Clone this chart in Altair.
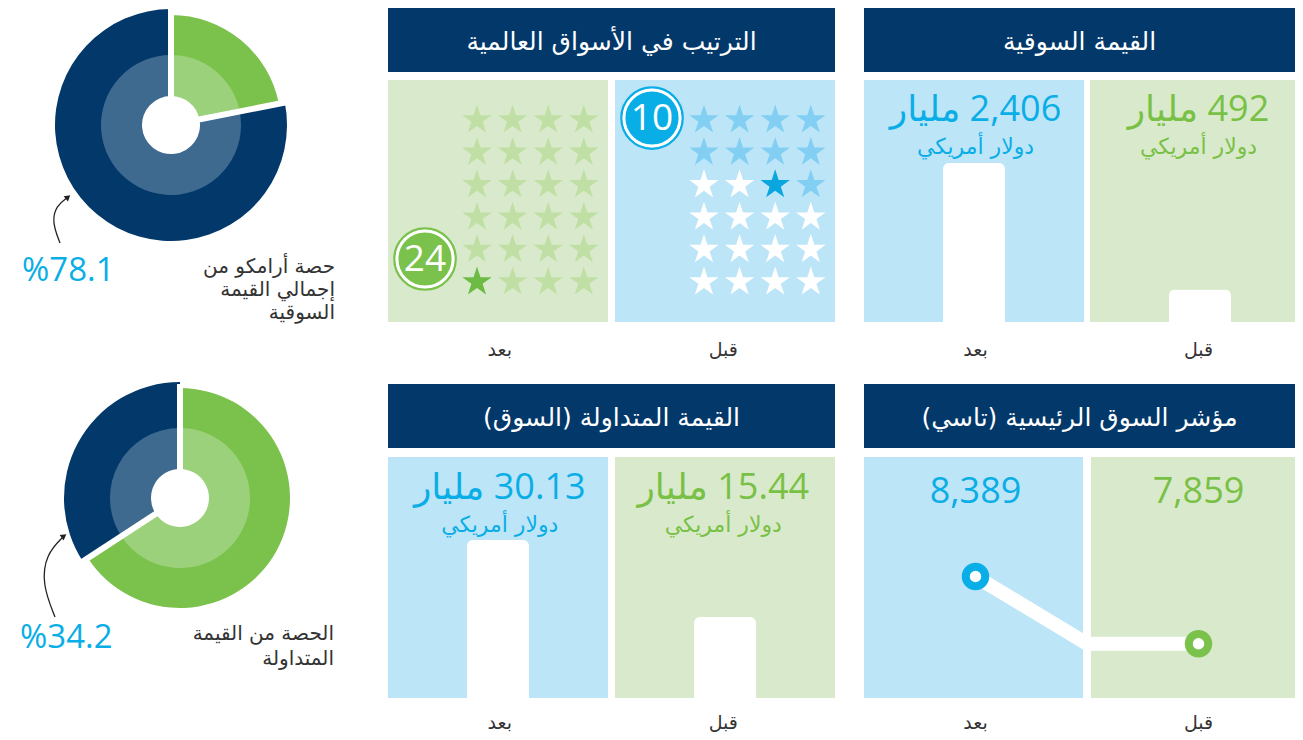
import math
import altair as alt
import pandas as pd

# ------------------------------------------------------------------ data
STAGES = ["بعد", "قبل"]                      # after / before  (left -> right)
MARKET_VALUE = [2406, 492]                   # USD billion
MARKET_VALUE_TEXT = ["2,406 مليار", "492 مليار"]
TRADED_VALUE = [30.13, 15.44]                # USD billion
TRADED_VALUE_TEXT = ["30.13 مليار", "15.44 مليار"]
TASI_VALUE = [8389, 7859]
TASI_TEXT = ["8,389", "7,859"]
WORLD_RANK = [24, 10]
RANK_SLOTS = 24
UNIT_TEXT = "دولار أمريكي"
ARAMCO_SHARE = [78.1, 34.2]                  # percent
SHARE_TEXT = ["%78.1", "%34.2"]
SHARE_CAPTION_1 = ["حصة أرامكو من", "إجمالي القيمة", "السوقية"]
SHARE_CAPTION_2 = ["الحصة من القيمة", "المتداولة"]
TITLE_RANK = "الترتيب في الأسواق العالمية"
TITLE_MV = "القيمة السوقية"
TITLE_TRADED = "القيمة المتداولة (السوق)"
TITLE_TASI = "مؤشر السوق الرئيسية (تاسي)"

# ------------------------------------------------------------------ styles
NAVY = "#02386a"
NAVY_LIGHT = "#3f6a90"
GREEN = "#7bc24d"
GREEN_LIGHT = "#9cd17b"
CYAN = "#0aaee6"
TXT_GREEN = "#79c146"
BG_BLUE = "#bde5f8"
BG_GREEN = "#d9eacc"
STAR_GREEN = "#c0dfa4"
STAR_GREEN_ON = "#6dbb45"
STAR_BLUE = "#83cff3"
STAR_BLUE_ON = "#0aa6df"
TXT_DARK = "#333333"
ARROW = "#222222"
FONT_AR = "DejaVu Sans"
FONT_NUM = "Open Sans, DejaVu Sans"
STAR_PATH = ("M0,-1L0.2245,-0.309L0.951,-0.309L0.363,0.118L0.588,0.809L0,0.382"
             "L-0.588,0.809L-0.363,0.118L-0.951,-0.309L-0.2245,-0.309Z")

# ------------------------------------------------------------------ layout
W_DONUT, W_MID, W_RIGHT = 351, 447, 431
W_RIGHT_FULL = 446            # right-hand panels run off the page edge
H_ROW1, H_ROW2 = 362, 348
GAP_X, GAP_Y = 29, 14
HDR_H = 64
HDR_TEXT_Y = 34

RLM = "\u200f"


def rtl(s):
    return RLM + s + RLM


def band_x(width, gap, full=None):
    full = full or width
    step = (full + gap) / 2.0
    return alt.X("stage:N", axis=None,
                 scale=alt.Scale(domain=STAGES, range=[0, full],
                                 paddingInner=gap / step, paddingOuter=0))


def ident_x(field, width):
    return alt.X(field, axis=None,
                 scale=alt.Scale(domain=[0, width], range=[0, width], nice=False, zero=False))


def ident_y(field, height):
    return alt.Y(field, axis=None,
                 scale=alt.Scale(domain=[0, height], range=[0, height], nice=False, zero=False))


def header(title, width):
    d = pd.DataFrame({"t": [rtl(title)]})
    box = alt.Chart(d).mark_rect(color=NAVY).encode(
        x=alt.value(0), x2=alt.value(width), y=alt.value(0), y2=alt.value(HDR_H))
    txt = alt.Chart(d).mark_text(color="white", font=FONT_AR, fontSize=25,
                                 align="center", baseline="middle").encode(
        x=alt.value(width / 2), y=alt.value(HDR_TEXT_Y), text="t:N")
    return [box, txt]


def backgrounds(xb, colors, top, bottom):
    d = pd.DataFrame({"stage": STAGES})
    return alt.Chart(d).mark_rect(clip=True).encode(
        x=xb, y=alt.value(top), y2=alt.value(bottom),
        color=alt.Color("stage:N", scale=alt.Scale(domain=STAGES, range=colors), legend=None))


def stage_labels(xb, y):
    d = pd.DataFrame({"stage": STAGES, "lbl": [rtl(s) for s in STAGES]})
    return alt.Chart(d).mark_text(font=FONT_AR, fontSize=19, color=TXT_DARK,
                                  baseline="middle").encode(
        x=xb, y=alt.value(y), text="lbl:N")


def value_panel(title, values, texts, ymax, width, height, gap, top, bottom,
                val_y, unit_y, lbl_y, full=None):
    d = pd.DataFrame({"stage": STAGES, "value": values,
                      "big": [rtl(t) for t in texts], "unit": [rtl(UNIT_TEXT)] * len(STAGES)})
    xb = band_x(width, gap, full)
    txt_col = alt.Color("stage:N", scale=alt.Scale(domain=STAGES, range=[CYAN, TXT_GREEN]), legend=None)
    bars = alt.Chart(d).mark_bar(color="white", width=62, cornerRadiusTopLeft=6,
                                 cornerRadiusTopRight=6).encode(
        x=xb, y=alt.Y("value:Q", axis=None,
                      scale=alt.Scale(domain=[0, ymax], range=[bottom, top], nice=False)))
    big = alt.Chart(d).mark_text(font=FONT_NUM, fontSize=36, fontWeight=500,
                                 baseline="middle").encode(
        x=xb, y=alt.value(val_y), text="big:N", color=txt_col)
    unit = alt.Chart(d).mark_text(font=FONT_AR, fontSize=22, baseline="middle").encode(
        x=xb, y=alt.value(unit_y), text="unit:N", color=txt_col)
    layers = header(title, width) + [
        backgrounds(xb, [BG_BLUE, BG_GREEN], top, bottom),
        bars, big, unit, stage_labels(xb, lbl_y)]
    return alt.layer(*layers).properties(width=width, height=height).resolve_scale(
        x="independent", y="independent", color="independent")


def rank_panel(width, height, gap, top, bottom, lbl_y):
    # star grid layout (grid units -> pixels through linear scales)
    x0, dx, y0, dy = 89, 35.6, 112, 32.4
    shift = 6.376                       # columns between the two panels' grids
    circle_pos = [(-1.46, 4.29), (-1.46 + shift, -0.06)]
    rows = []
    for k, (stage, rank) in enumerate(zip(STAGES, WORLD_RANK)):
        for i in range(1, RANK_SLOTS + 1):
            status = "past" if i < rank else ("now" if i == rank else "next")
            rows.append({"stage": stage, "slot": i,
                         "gcol": 3 - (i - 1) % 4 + k * shift,
                         "grow": (i - 1) // 4, "key": f"{k}{status}"})
    stars = pd.DataFrame(rows)
    circ = pd.DataFrame({"stage": STAGES, "rank": [str(r) for r in WORLD_RANK],
                         "gcol": [p[0] for p in circle_pos], "grow": [p[1] for p in circle_pos]})
    gx = alt.X("gcol:Q", axis=None,
               scale=alt.Scale(domain=[0, 1], range=[x0, x0 + dx], nice=False, zero=False))
    gy = alt.Y("grow:Q", axis=None,
               scale=alt.Scale(domain=[0, 1], range=[y0, y0 + dy], nice=False, zero=False))
    star_col = alt.Color("key:N", legend=None, scale=alt.Scale(
        domain=["0past", "0now", "0next", "1past", "1now", "1next"],
        range=[STAR_GREEN, STAR_GREEN_ON, "white", STAR_BLUE, STAR_BLUE_ON, "white"]))
    star_layer = alt.Chart(stars).mark_point(shape=STAR_PATH, filled=True, size=960,
                                             opacity=1, strokeWidth=0).encode(
        x=gx, y=gy, color=star_col)
    ring_col = alt.Color("stage:N", legend=None,
                         scale=alt.Scale(domain=STAGES, range=[GREEN, CYAN]))
    ring = alt.Chart(circ).mark_point(filled=False, size=3750, strokeWidth=2.5, opacity=1).encode(
        x=gx, y=gy, color=ring_col)
    disk = alt.Chart(circ).mark_point(filled=True, size=3150, stroke="white", strokeWidth=3,
                                      opacity=1).encode(x=gx, y=gy, color=ring_col)
    num = alt.Chart(circ).mark_text(font=FONT_NUM, fontSize=37, fontWeight=500, color="white",
                                    baseline="middle", dy=1).encode(x=gx, y=gy, text="rank:N")
    xb = band_x(width, gap)
    layers = header(TITLE_RANK, width) + [
        backgrounds(xb, [BG_GREEN, BG_BLUE], top, bottom),
        star_layer, ring, disk, num, stage_labels(xb, lbl_y)]
    return alt.layer(*layers).properties(width=width, height=height).resolve_scale(
        x="independent", y="independent", color="independent")


def tasi_panel(width, height, gap, top, bottom, val_y, lbl_y, full=None):
    full = full or width
    d = pd.DataFrame({"stage": STAGES, "value": TASI_VALUE, "lbl": TASI_TEXT})
    # connector: after-point -> middle of panel at "before" level -> before-point
    line = pd.DataFrame({"slot": [0.5, 1.0, 1.5],
                         "value": [TASI_VALUE[0], TASI_VALUE[1], TASI_VALUE[1]]})
    yscale = alt.Scale(domain=[7432, 9330], range=[bottom, top], nice=False, zero=False)
    xb = band_x(width, gap, full)
    col = alt.Color("stage:N", scale=alt.Scale(domain=STAGES, range=[CYAN, TXT_GREEN]), legend=None)
    conn = alt.Chart(line).mark_line(color="white", strokeWidth=14).encode(
        x=alt.X("slot:Q", axis=None, scale=alt.Scale(domain=[0, 2], range=[0, full], nice=False, zero=False)),
        y=alt.Y("value:Q", axis=None, scale=yscale), order="slot:Q")
    pts = alt.Chart(d).mark_point(filled=True, fill="white", size=380, strokeWidth=8,
                                  opacity=1).encode(
        x=xb, y=alt.Y("value:Q", axis=None, scale=yscale),
        stroke=alt.Stroke("stage:N", scale=alt.Scale(domain=STAGES, range=[CYAN, GREEN]), legend=None))
    txt = alt.Chart(d).mark_text(font=FONT_NUM, fontSize=36, fontWeight=500,
                                 baseline="middle").encode(
        x=xb, y=alt.value(val_y), text="lbl:N", color=col)
    layers = header(TITLE_TASI, width) + [
        backgrounds(xb, [BG_BLUE, BG_GREEN], top, bottom),
        conn, pts, txt, stage_labels(xb, lbl_y)]
    return alt.layer(*layers).properties(width=width, height=height).resolve_scale(
        x="independent", y="independent", color="independent", stroke="independent")


def donut_panel(share, share_text, caption, height, cx, cy, text_xy, cap_x, cap_y0,
                cap_dy, arrow_pts, head_angle):
    W = W_DONUT
    parts = ["rest", "aramco"]
    d = pd.DataFrame({"part": parts, "value": [round(100 - share, 1), share]})
    d["end"] = d["value"].cumsum()
    d["start"] = d["end"] - d["value"]
    th = alt.Theta("start:Q", stack=False,
                   scale=alt.Scale(domain=[0, 100], range=[0, 2 * math.pi]))
    th2 = alt.Theta2("end:Q")
    inner = alt.Chart(d).mark_arc(radius=72, radius2=29).encode(
        theta=th, theta2=th2, x=alt.value(cx), y=alt.value(cy),
        color=alt.Color("part:N", legend=None,
                        scale=alt.Scale(domain=parts, range=[GREEN_LIGHT, NAVY_LIGHT])))
    ocol = alt.Color("part:N", legend=None, scale=alt.Scale(domain=parts, range=[GREEN, NAVY]))
    outer_rest = alt.Chart(d).transform_filter(alt.datum.part == "rest").mark_arc(
        radius=110, radius2=70).encode(theta=th, theta2=th2, x=alt.value(cx), y=alt.value(cy), color=ocol)
    outer_ar = alt.Chart(d).transform_filter(alt.datum.part == "aramco").mark_arc(
        radius=116, radius2=70).encode(theta=th, theta2=th2, x=alt.value(cx), y=alt.value(cy), color=ocol)
    # white separators along the slice boundaries (clipped to the panel)
    bounds = [0.0, float(d["end"].iloc[0])]
    reach = 124
    sep = pd.DataFrame({
        "x1": [cx] * 2, "y1": [cy] * 2,
        "x2": [cx + reach * math.sin(2 * math.pi * b / 100) for b in bounds],
        "y2": [cy - reach * math.cos(2 * math.pi * b / 100) for b in bounds]})
    seps = alt.Chart(sep).mark_rule(color="white", strokeWidth=6, strokeCap="butt",
                                    clip=True).encode(
        x=ident_x("x1:Q", W), y=ident_y("y1:Q", height), x2="x2:Q", y2="y2:Q")
    big = alt.Chart(pd.DataFrame({"t": [share_text]})).mark_text(
        font=FONT_NUM, fontSize=33, fontWeight=500, color=CYAN, align="left",
        baseline="middle").encode(x=alt.value(text_xy[0]), y=alt.value(text_xy[1]), text="t:N")
    cap = pd.DataFrame({"t": [rtl(c) for c in caption],
                        "y": [cap_y0 + i * cap_dy for i in range(len(caption))]})
    caps = alt.Chart(cap).mark_text(font=FONT_AR, fontSize=20, color=TXT_DARK, align="right",
                                    baseline="middle").encode(
        x=alt.value(cap_x), y=ident_y("y:Q", height), text="t:N")
    arr = pd.DataFrame({"i": list(range(len(arrow_pts))),
                        "ax": [p[0] for p in arrow_pts], "ay": [p[1] for p in arrow_pts]})
    arrow = alt.Chart(arr).mark_line(interpolate="basis", color=ARROW, strokeWidth=1.3).encode(
        x=ident_x("ax:Q", W), y=ident_y("ay:Q", height), order="i:Q")
    head = alt.Chart(arr.tail(1)).mark_point(shape="triangle-up", filled=True, size=45,
                                             angle=head_angle, color=ARROW, opacity=1).encode(
        x=ident_x("ax:Q", W), y=ident_y("ay:Q", height))
    return alt.layer(inner, outer_rest, outer_ar, seps, big, caps, arrow, head).properties(
        width=W, height=height).resolve_scale(x="independent", y="independent", color="independent")


# ------------------------------------------------------------------ panels
donut1 = donut_panel(ARAMCO_SHARE[0], SHARE_TEXT[0], SHARE_CAPTION_1, H_ROW1,
                     cx=163, cy=117, text_xy=(14, 263), cap_x=327, cap_y0=259, cap_dy=23,
                     arrow_pts=[(52, 235), (44, 214), (48, 198), (60, 189)], head_angle=50)
donut2 = donut_panel(ARAMCO_SHARE[1], SHARE_TEXT[1], SHARE_CAPTION_2, H_ROW2,
                     cx=172, cy=114, text_xy=(12, 254), cap_x=326, cap_y0=250, cap_dy=25,
                     arrow_pts=[(47, 233), (34, 200), (38, 170), (56, 152)], head_angle=55)

rank = rank_panel(W_MID, H_ROW1, 7, top=72, bottom=314, lbl_y=342)
mv = value_panel(TITLE_MV, MARKET_VALUE, MARKET_VALUE_TEXT, 3662, W_RIGHT, H_ROW1, 6,
                 top=72, bottom=314, val_y=102, unit_y=139, lbl_y=342, full=W_RIGHT_FULL)
traded = value_panel(TITLE_TRADED, TRADED_VALUE, TRADED_VALUE_TEXT, 45.96, W_MID, H_ROW2, 7,
                     top=73, bottom=314, val_y=104, unit_y=141, lbl_y=339)
tasi = tasi_panel(W_RIGHT, H_ROW2, 8, top=73, bottom=314, val_y=108, lbl_y=339,
                  full=W_RIGHT_FULL)

chart = alt.concat(donut1, rank, mv, donut2, traded, tasi, columns=3,
                   spacing={"row": GAP_Y, "column": GAP_X}, bounds="flush").properties(
    padding=0, background="white").configure_view(strokeWidth=0)

chart.save("out.html", embed_options={"renderer": "svg", "actions": False})
